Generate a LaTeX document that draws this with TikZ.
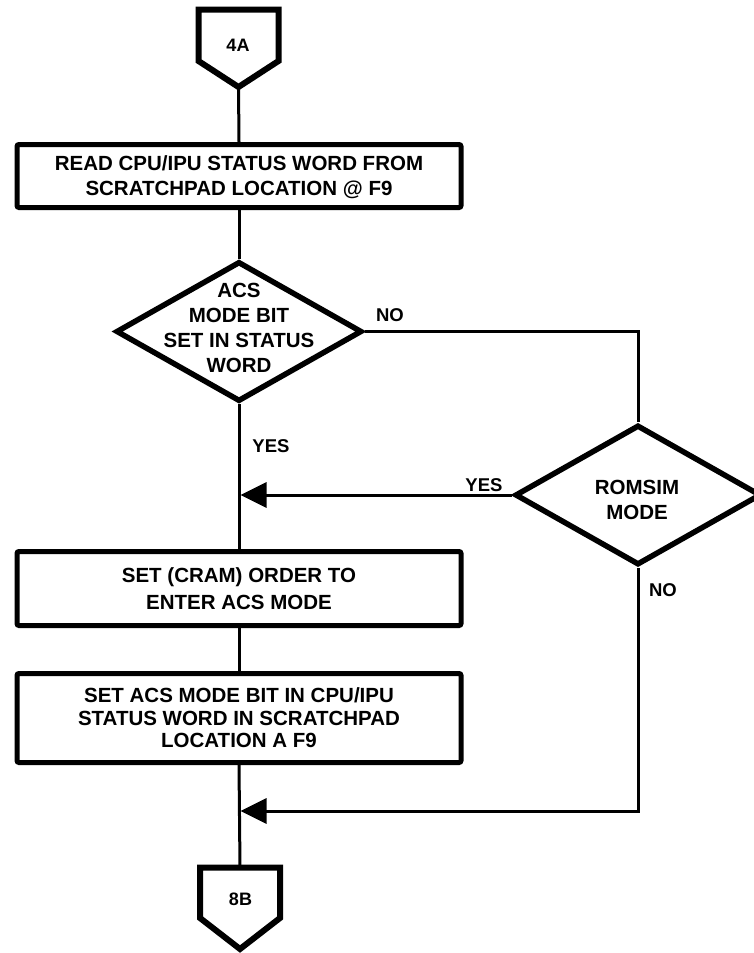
\documentclass[tikz,border=0pt]{standalone}
\usepackage{fontspec}
\setmainfont{Liberation Sans}
\usetikzlibrary{shapes.geometric,arrows.meta,calc}
\begin{document}
\begin{tikzpicture}[x=1pt,y=-1pt,
  procbox/.style={draw, line width=5pt, rounded corners=2pt, minimum width=444pt,
    inner sep=0pt, align=center, font=\fontsize{20.5}{25}\selectfont\bfseries},
  decision/.style={draw, diamond, line width=5.5pt, line join=miter,
    minimum width=246pt, minimum height=140pt, inner sep=0pt},
  dtext/.style={align=center, inner sep=0pt, font=\fontsize{20.5}{25}\selectfont\bfseries},
  offpage/.style={minimum width=80pt, inner sep=0pt, outer sep=0pt},
  ctext/.style={inner sep=0pt, font=\fontsize{18}{20}\selectfont\bfseries},
  flowlabel/.style={inner sep=0pt, font=\fontsize{18.5}{20}\selectfont\bfseries},
  flow/.style={line width=3pt},
  outline/.style={line width=6pt, line join=miter},
  arrowin/.style={flow, -{Triangle[length=26pt, width=25pt]}}
]
\useasboundingbox (0,0) rectangle (753,953);
\fill[white] (0,0) rectangle (753,953);

% off-page connector at the top
\node[offpage, minimum height=77.5pt] (c4A) at (238.5,48.25) {};
\draw[outline] (c4A.north west) -- (c4A.north east) -- ($(c4A.south east)+(0,-26)$)
  -- (c4A.south) -- ($(c4A.south west)+(0,-26)$) -- cycle;
\node[ctext] (t4A) at (238,45) {4A};

% process boxes
\node[procbox, minimum height=63pt] (box1) at (239,176)
  {READ CPU/IPU STATUS WORD FROM\\[0pt]\raisebox{0pt}[\height][0pt]{SCRATCHPAD LOCATION @ F9}};
\node[procbox, minimum height=74pt, font=\fontsize{20.5}{26.5}\selectfont\bfseries] (box2) at (239,588.5)
  {SET (CRAM) ORDER TO\\ENTER ACS MODE};
\node[procbox, minimum height=89pt, font=\fontsize{20.5}{22.5}\selectfont\bfseries] (box3) at (239,718)
  {SET ACS MODE BIT IN CPU/IPU\\STATUS WORD IN SCRATCHPAD\\LOCATION A F9};

% decisions
\node[decision] (d1) at (239,331.5) {};
\node[dtext] (d1t) at (239,327.5) {ACS\\MODE BIT\\SET IN STATUS\\WORD};
\node[decision] (romsim) at (638,495) {};
\node[dtext] (romsimt) at (637,499.5) {ROMSIM\\MODE};

% off-page connector at the bottom
\node[offpage, minimum height=81.5pt] (c8B) at (240,908.25) {};
\draw[outline] (c8B.north west) -- (c8B.north east) -- ($(c8B.south east)+(0,-31)$)
  -- (c8B.south) -- ($(c8B.south west)+(0,-31)$) -- cycle;
\node[ctext] (t8B) at (240.5,899) {8B};

% junctions on the main line
\coordinate (j1) at (240.5,495);
\coordinate (j2) at (240.5,811);

% flow lines
\draw[flow] (c4A.south) -- (box1.north);
\draw[flow] (box1.south) -- (d1.north);
\draw[flow] (d1.south) -- (box2.north);
\draw[flow] (box2.south) -- (box3.north);
\draw[flow] (box3.south) -- (c8B.north);
\draw[flow] (d1.east) -| (romsim.north);
\draw[arrowin] (romsim.west) -- (j1);
\draw[arrowin] (romsim.south) |- (j2);

% branch labels
\node[flowlabel] (no1) at (390,315) {NO};
\node[flowlabel] (yes1) at (271,446) {YES};
\node[flowlabel] (yes2) at (484,485) {YES};
\node[flowlabel] (no2) at (663,590) {NO};
\end{tikzpicture}
\end{document}
